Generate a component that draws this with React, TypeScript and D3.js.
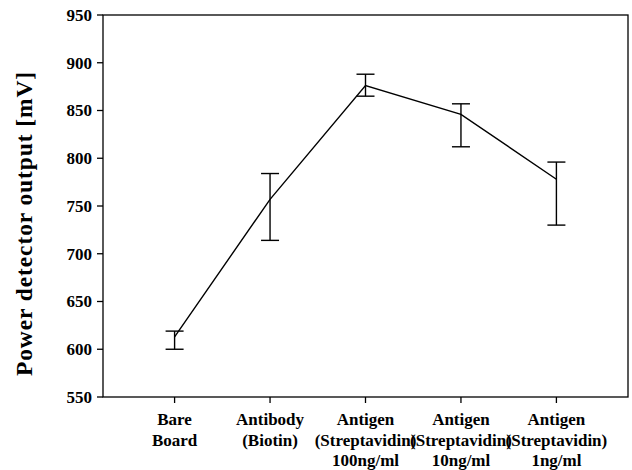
import React from "react";
import * as d3 from "d3";

const categories: string[][] = [
  ["Bare", "Board"],
  ["Antibody", "(Biotin)"],
  ["Antigen", "(Streptavidin)", "100ng/ml"],
  ["Antigen", "(Streptavidin)", "10ng/ml"],
  ["Antigen", "(Streptavidin)", "1ng/ml"],
];
const means = [613, 757, 876, 846, 778];
const upper = [619, 784, 888, 857, 796];
const lower = [600, 714, 865, 812, 730];
const yTicks = [550, 600, 650, 700, 750, 800, 850, 900, 950];

const W = 632;
const H = 470;
const left = 103;
const right = 628;
const top = 15;
const bottom = 397;
const font = "'Liberation Serif', 'Times New Roman', serif";

export default function App() {
  const x = d3.scaleLinear().domain([-0.75, 4.75]).range([left, right]);
  const y = d3.scaleLinear().domain([550, 950]).range([bottom, top]);
  const line = d3
    .line<number>()
    .x((_, i) => x(i))
    .y((d) => y(d));
  const cap = 9;
  return (
    <svg
      width={W}
      height={H}
      style={{ position: "absolute", left: 0, top: 0, background: "#fff" }}
      fontFamily={font}
      fontWeight="bold"
    >
      <rect x={0} y={0} width={W} height={H} fill="#fff" />
      <rect
        x={left}
        y={top}
        width={right - left}
        height={bottom - top}
        fill="none"
        stroke="#000"
        strokeWidth={1.3}
      />
      {yTicks.map((t) => (
        <g key={t}>
          <line x1={left - 6} x2={left} y1={y(t)} y2={y(t)} stroke="#000" strokeWidth={1.3} />
          <text x={left - 11} y={y(t)} dy="0.35em" textAnchor="end" fontSize={17}>
            {t}
          </text>
        </g>
      ))}
      {categories.map((lines, i) => (
        <g key={i}>
          <line x1={x(i)} x2={x(i)} y1={bottom} y2={bottom + 6} stroke="#000" strokeWidth={1.3} />
          {lines.map((s, j) => (
            <text key={j} x={x(i)} y={425 + j * 20.7} textAnchor="middle" fontSize={17}>
              {s}
            </text>
          ))}
        </g>
      ))}
      <path d={line(means) || ""} fill="none" stroke="#000" strokeWidth={1.4} />
      {means.map((m, i) => (
        <g key={i} stroke="#000" strokeWidth={1.4}>
          <line x1={x(i)} x2={x(i)} y1={y(upper[i])} y2={y(lower[i])} />
          <line x1={x(i) - cap} x2={x(i) + cap} y1={y(upper[i])} y2={y(upper[i])} />
          <line x1={x(i) - cap} x2={x(i) + cap} y1={y(lower[i])} y2={y(lower[i])} />
        </g>
      ))}
      <text
        transform={`translate(32, 223.5) rotate(-90)`}
        textAnchor="middle"
        fontSize={23.5}
        letterSpacing={0.9}
      >
        Power detector output [mV]
      </text>
    </svg>
  );
}
